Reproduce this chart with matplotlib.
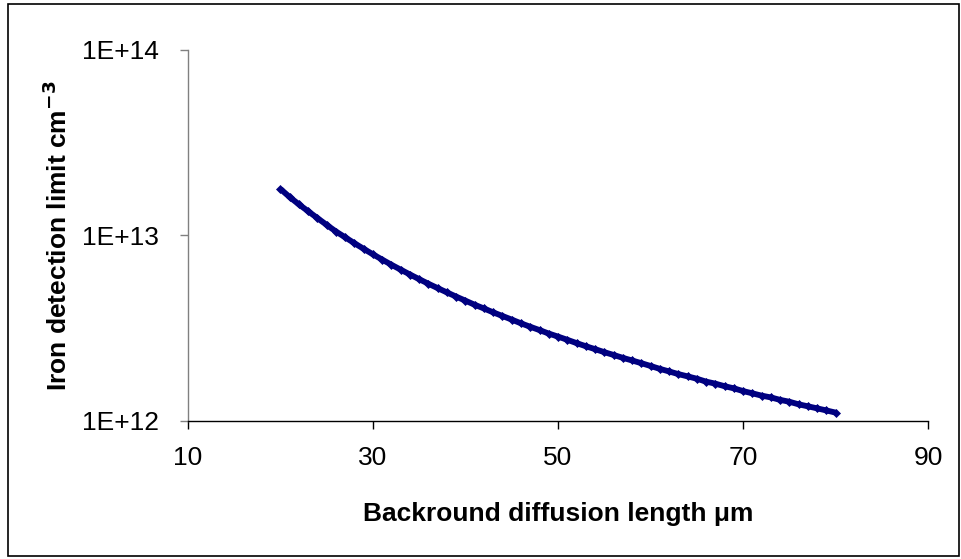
import matplotlib
matplotlib.use("Agg")
import matplotlib.pyplot as plt
from matplotlib.patches import Rectangle
from matplotlib.ticker import FixedLocator, NullLocator

plt.rcParams["font.family"] = ["Liberation Sans", "DejaVu Sans"]

# background diffusion length (um) and iron detection limit (units of 1e12 cm^-3)
diff_length = list(range(20, 81))
limit_e12 = [
    17.8, 16.1, 14.7, 13.5, 12.4, 11.4, 10.5, 9.77, 9.08, 8.47,
    7.91, 7.41, 6.95, 6.54, 6.16, 5.81, 5.49, 5.20, 4.93, 4.68,
    4.45, 4.23, 4.04, 3.85, 3.68, 3.52, 3.36, 3.22, 3.09, 2.96,
    2.85, 2.74, 2.63, 2.53, 2.44, 2.35, 2.27, 2.19, 2.12, 2.05,
    1.98, 1.91, 1.85, 1.79, 1.74, 1.69, 1.63, 1.59, 1.54, 1.50,
    1.45, 1.41, 1.37, 1.34, 1.30, 1.27, 1.23, 1.20, 1.17, 1.14,
    1.11,
]
x_ticks = [10, 30, 50, 70, 90]
y_ticks = [1e12, 1e13, 1e14]
y_tick_labels = ["1E+12", "1E+13", "1E+14"]

limit = [v * 1e12 for v in limit_e12]

fig = plt.figure(figsize=(9.61, 5.59), dpi=100)
ax = fig.add_axes([0.1956, 0.2469, 0.7701, 0.6637])

ax.plot(diff_length, limit, color="#000080", lw=4.2, marker="D",
        markersize=4.5, markeredgewidth=0.5, markeredgecolor="#000080",
        solid_capstyle="butt", zorder=3)

ax.set_yscale("log")
ax.set_xlim(10, 90)
ax.set_ylim(1e12, 1e14)
ax.xaxis.set_major_locator(FixedLocator(x_ticks))
ax.set_xticklabels([str(t) for t in x_ticks])
ax.yaxis.set_major_locator(FixedLocator(y_ticks))
ax.yaxis.set_minor_locator(NullLocator())
ax.set_yticklabels(y_tick_labels)

for side in ("top", "right"):
    ax.spines[side].set_visible(False)
ax.spines["left"].set_color("#808080")
ax.spines["bottom"].set_color("#000000")
ax.spines["left"].set_linewidth(1.0)
ax.spines["bottom"].set_linewidth(1.0)
ax.tick_params(axis="x", direction="out", length=6, width=1, color="#000000",
               labelsize=19, pad=12)
ax.tick_params(axis="y", direction="out", length=6, width=1, color="#808080",
               labelsize=19, pad=15)

ax.set_xlabel("Backround diffusion length \u03bcm", fontsize=19,
              fontweight="bold", labelpad=23)
ax.set_ylabel("Iron detection limit cm$^{\\mathbf{-3}}$", fontsize=19,
              fontweight="bold", labelpad=7)

# outer chart border
fig.patches.append(Rectangle((8 / 961, 3 / 559), 951 / 961, 552 / 559,
                             transform=fig.transFigure, fill=False,
                             edgecolor="#000000", lw=1.2))

fig.savefig("out.png", dpi=100)
